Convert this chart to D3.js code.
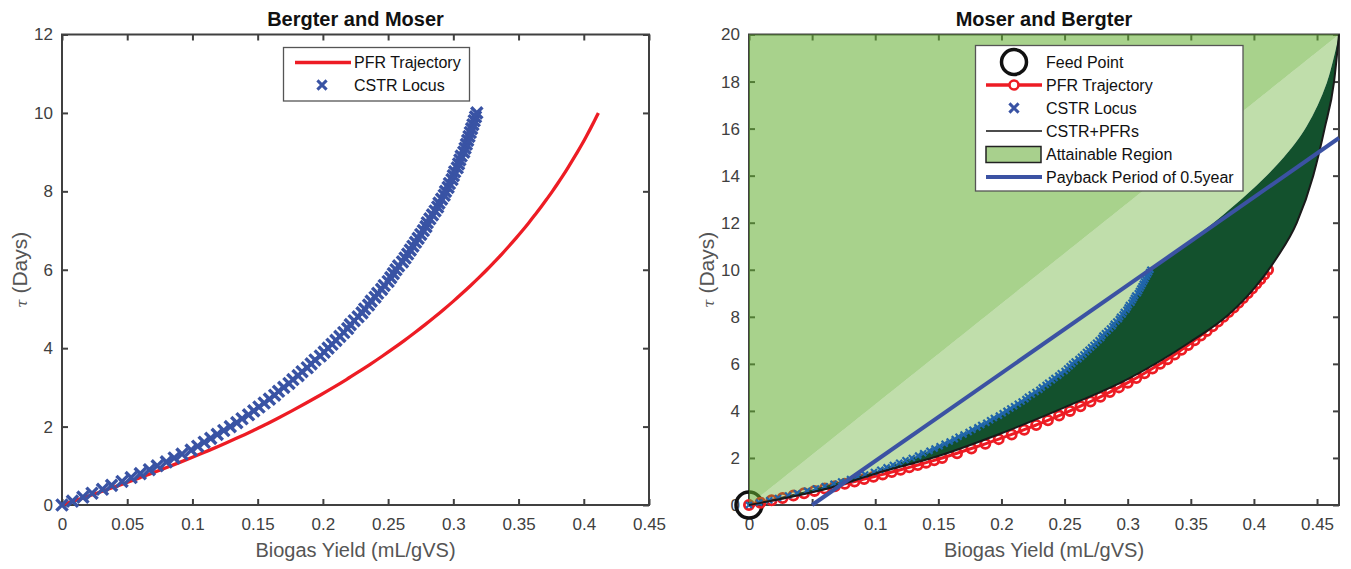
<!DOCTYPE html>
<html>
<head>
<meta charset="utf-8">
<script src="https://cdn.jsdelivr.net/npm/d3@7"></script>
<style>
body { margin: 0; background: #fff; }
svg { display: block; }
</style>
</head>
<body>
<svg id="chart" width="1351" height="569"></svg>
<script>
// PFR trajectory (residence time in days vs biogas yield)
const pfrTau = [0,0.1,0.2,0.3,0.4,0.5,0.6,0.7,0.8,0.9,1.0,1.1,1.2,1.3,1.4,1.5,1.6,1.7,1.8,1.9,2.0,
  2.2,2.4,2.6,2.8,3.0,3.2,3.4,3.6,3.8,4.0,4.2,4.4,4.6,4.8,5.0,5.2,5.4,5.6,5.8,6.0,
  6.2,6.4,6.6,6.8,7.0,7.2,7.4,7.6,7.8,8.0,8.2,8.4,8.6,8.8,9.0,9.2,9.4,9.6,9.8,10.0];
const pfrYield = [0,0.0090,0.0179,0.0266,0.0352,0.0436,0.0519,0.0600,0.0680,0.0759,0.0836,0.0912,0.0986,0.1059,0.1131,0.1201,0.1270,0.1337,0.1403,0.1467,0.1530,
  0.1648,0.1762,0.1872,0.1978,0.2081,0.2180,0.2275,0.2368,0.2457,0.2543,0.2626,0.2706,0.2784,0.2859,0.2931,0.3001,0.3068,0.3133,0.3196,0.3257,
  0.3315,0.3372,0.3426,0.3479,0.3530,0.3579,0.3626,0.3672,0.3716,0.3759,0.3800,0.3840,0.3878,0.3915,0.3951,0.3986,0.4019,0.4051,0.4082,0.4112];

// CSTR locus
const cstrTau = [0,0.1,0.2,0.3,0.4,0.5,0.6,0.7,0.8,0.9,1.0,1.1,1.2,1.3,1.4,1.5,1.6,1.7,1.8,1.9,
  2.0,2.1,2.2,2.3,2.4,2.5,2.6,2.7,2.8,2.9,3.0,3.1,3.2,3.3,3.4,3.5,3.6,3.7,3.8,3.9,
  4.0,4.1,4.2,4.3,4.4,4.5,4.6,4.7,4.8,4.9,5.0,5.1,5.2,5.3,5.4,5.5,5.6,5.7,5.8,5.9,
  6.0,6.1,6.2,6.3,6.4,6.5,6.6,6.7,6.8,6.9,7.0,7.1,7.2,7.3,7.4,7.5,7.6,7.7,7.8,7.9,
  8.0,8.1,8.2,8.3,8.4,8.5,8.6,8.7,8.8,8.9,9.0,9.1,9.2,9.3,9.4,9.5,9.6,9.7,9.8,9.9,10.0];
const cstrYield = [0,0.008,0.016,0.023,0.031,0.038,0.046,0.053,0.060,0.067,0.073,0.080,0.086,0.092,0.099,0.104,0.109,0.114,0.119,0.124,
  0.129,0.134,0.138,0.143,0.147,0.151,0.155,0.159,0.163,0.166,0.170,0.174,0.177,0.181,0.184,0.188,0.191,0.194,0.198,0.201,
  0.204,0.207,0.210,0.213,0.216,0.219,0.221,0.224,0.227,0.230,0.232,0.235,0.237,0.240,0.242,0.245,0.247,0.250,0.252,0.254,
  0.256,0.258,0.261,0.263,0.265,0.267,0.269,0.271,0.273,0.275,0.277,0.279,0.280,0.282,0.284,0.286,0.288,0.289,0.291,0.293,
  0.294,0.296,0.297,0.299,0.300,0.301,0.303,0.304,0.305,0.306,0.308,0.309,0.310,0.311,0.312,0.313,0.314,0.315,0.316,0.317,0.318];

// CSTR followed by PFRs (lower boundary of the attainable region)
const comboYield = [0,0.07,0.1,0.15,0.2,0.25,0.3,0.35,0.38,0.40,0.418,0.434,0.447,0.456,0.4635,0.4674];
const comboTau   = [0,0.82,1.33,2.08,3.05,4.15,5.35,6.95,8.1,9.2,10.5,12,14,16,18,20];

// upper edge of the dark mixing fan, from the CSTR end point to the corner
const edgeYield = [0.3758,0.4207,0.4418,0.4577,0.4674];
const edgeTau   = [12.34,14.6,16.1,17.94,20];

// payback period of 0.5 year
const paybackYield = [0.05,0.4674];
const paybackTau   = [0,15.6];

const feedYield = 0, feedTau = 0;

const xTicks = [0,0.05,0.1,0.15,0.2,0.25,0.3,0.35,0.4,0.45];
const tauTicksLeft = [0,2,4,6,8,10,12];
const tauTicksRight = [0,2,4,6,8,10,12,14,16,18,20];

const FONT = '"Liberation Sans", Arial, Helvetica, sans-serif';
const AXIS = "#404040";
const RED = "#ed1c24";
const BLUE = "#3953a4";

const svg = d3.select("#chart");

const xL = d3.scaleLinear().domain([0,0.45]).range([62,649]);
const yL = d3.scaleLinear().domain([0,12]).range([505,34.5]);
const xR = d3.scaleLinear().domain([0,0.4674]).range([749,1339]);
const yR = d3.scaleLinear().domain([0,20]).range([505,34.5]);

function frame(x, y, yTicks, title) {
  const [x0,x1] = x.range(), [y0,y1] = y.range();
  const g = svg.append("g");
  g.append("rect").attr("x",x0).attr("y",y1).attr("width",x1-x0).attr("height",y0-y1)
    .attr("fill","none").attr("stroke",AXIS).attr("stroke-width",2);
  const axes = [
    [d3.axisBottom(x).tickValues(xTicks).tickFormat(d => String(d)).tickPadding(13), `translate(0,${y0})`],
    [d3.axisTop(x).tickValues(xTicks).tickFormat(""), `translate(0,${y1})`],
    [d3.axisLeft(y).tickValues(yTicks).tickFormat(d => String(d)).tickPadding(9), `translate(${x0},0)`],
    [d3.axisRight(y).tickValues(yTicks).tickFormat(""), `translate(${x1},0)`]
  ];
  for (const [ax, tr] of axes) {
    const a = g.append("g").attr("transform", tr).call(ax.tickSize(-6).tickSizeOuter(0));
    a.select(".domain").remove();
    a.selectAll(".tick line").attr("stroke",AXIS).attr("stroke-width",2);
    a.selectAll(".tick text").attr("fill",AXIS).style("font-family",FONT).style("font-size","17px");
  }
  const cx = (x0+x1)/2, cy = (y0+y1)/2;
  svg.append("text").attr("x",cx).attr("y",26).attr("text-anchor","middle")
    .style("font-family",FONT).style("font-size","20px").style("font-weight","bold")
    .attr("fill","#111").text(title);
  svg.append("text").attr("x",cx).attr("y",557).attr("text-anchor","middle")
    .style("font-family",FONT).style("font-size","20px").attr("fill","#555")
    .text("Biogas Yield (mL/gVS)");
  const yl = svg.append("text").attr("transform",`translate(${x0-35},${cy}) rotate(-90)`)
    .attr("text-anchor","middle").style("font-family",FONT).style("font-size","21px").attr("fill","#555");
  yl.append("tspan").style("font-family","'DejaVu Serif', serif").style("font-style","italic")
    .style("font-size","15px").text("\u03c4");
  yl.append("tspan").text(" (Days)");
  return g;
}

const xMark = r => `M${-r},${-r}L${r},${r}M${-r},${r}L${r},${-r}`;

// ---------- left panel ----------
frame(xL, yL, tauTicksLeft, "Bergter and Moser");

svg.append("path")
  .datum(d3.range(pfrTau.length))
  .attr("fill","none").attr("stroke",RED).attr("stroke-width",3.3)
  .attr("d", d3.line().x(i => xL(pfrYield[i])).y(i => yL(pfrTau[i])).curve(d3.curveCatmullRom));

svg.append("g").selectAll("path")
  .data(d3.range(cstrTau.length))
  .join("path")
  .attr("transform", i => `translate(${xL(cstrYield[i])},${yL(cstrTau[i])})`)
  .attr("d", xMark(5.6)).attr("fill","none").attr("stroke",BLUE).attr("stroke-width",3.4);

// left legend
const lg = svg.append("g").style("font-family",FONT).style("font-size","16px");
lg.append("rect").attr("x",283.5).attr("y",47.5).attr("width",186).attr("height",53.5)
  .attr("fill","#fff").attr("stroke","#555").attr("stroke-width",1.3);
lg.append("line").attr("x1",295).attr("x2",351).attr("y1",62.5).attr("y2",62.5)
  .attr("stroke",RED).attr("stroke-width",3.3);
lg.append("path").attr("transform","translate(322,85)").attr("d",xMark(4.6))
  .attr("stroke",BLUE).attr("stroke-width",3).attr("fill","none");
lg.append("text").attr("x",354).attr("y",62.5).attr("dy","0.35em").attr("fill","#111").text("PFR Trajectory");
lg.append("text").attr("x",354).attr("y",85).attr("dy","0.35em").attr("fill","#111").text("CSTR Locus");

// ---------- right panel ----------
frame(xR, yR, tauTicksRight, "Moser and Bergter");

const P = (xv, tv) => [xR(xv), yR(tv)];
const xmax = xR.domain()[1];

// feed point and PFR drawn under the translucent region
svg.append("circle").attr("cx",xR(feedYield)).attr("cy",yR(feedTau)).attr("r",13)
  .attr("fill","none").attr("stroke","#111").attr("stroke-width",3.5);

svg.append("path")
  .datum(d3.range(pfrTau.length))
  .attr("fill","none").attr("stroke",RED).attr("stroke-width",3)
  .attr("d", d3.line().x(i => xR(pfrYield[i])).y(i => yR(pfrTau[i])).curve(d3.curveCatmullRom));
svg.append("g").selectAll("circle")
  .data(d3.range(pfrTau.length))
  .join("circle")
  .attr("cx", i => xR(pfrYield[i])).attr("cy", i => yR(pfrTau[i])).attr("r",4.6)
  .attr("fill","none").attr("stroke",RED).attr("stroke-width",2.8);

// attainable region pieces
const cstrPts = d3.range(cstrTau.length).map(i => P(cstrYield[i], cstrTau[i]));
const edgePts = [cstrPts[cstrPts.length-1]].concat(d3.range(edgeTau.length).map(i => P(edgeYield[i], edgeTau[i])));
const comboPts = d3.range(comboTau.length).map(i => P(comboYield[i], comboTau[i]));
const lin = d3.line();
const mono = d3.line().curve(d3.curveMonotoneX);
const smooth = d3.line().curve(d3.curveCatmullRom);
const cont = s => s.replace(/^M/, "L");

const edgeBack = smooth(edgePts.slice().reverse());      // corner -> CSTR end
const cstrBack = lin(cstrPts.slice().reverse());         // CSTR end -> origin

// above the diagonal
svg.append("path")
  .attr("d", lin([P(0,0), P(0,20), P(xmax,20)]) + "Z")
  .attr("fill","rgb(97,173,46)").attr("fill-opacity",0.55);

// band between the diagonal and the CSTR locus / fan edge
svg.append("path")
  .attr("d", lin([P(0,0), P(xmax,20)]) + cont(edgeBack) + cont(cstrBack) + "Z")
  .attr("fill","rgb(97,173,46)").attr("fill-opacity",0.4);

// dark fan between CSTR locus and CSTR+PFR curve
svg.append("path")
  .attr("d", mono(comboPts) + cont(edgeBack) + cont(cstrBack) + "Z")
  .attr("fill","#13512d");

// CSTR locus markers
svg.append("g").selectAll("path")
  .data(d3.range(cstrTau.length))
  .join("path")
  .attr("transform", i => `translate(${xR(cstrYield[i])},${yR(cstrTau[i])})`)
  .attr("d", xMark(3)).attr("fill","none").attr("stroke","#2065aa").attr("stroke-width",2.2);

// CSTR+PFRs
svg.append("path").attr("d", mono(comboPts))
  .attr("fill","none").attr("stroke","#1a1a1a").attr("stroke-width",2);

// payback line
svg.append("line")
  .attr("x1",xR(paybackYield[0])).attr("y1",yR(paybackTau[0]))
  .attr("x2",xR(paybackYield[1])).attr("y2",yR(paybackTau[1]))
  .attr("stroke","#3b52a3").attr("stroke-width",4);

// right legend
const rg = svg.append("g").style("font-family",FONT).style("font-size","16px");
rg.append("rect").attr("x",975.5).attr("y",45.5).attr("width",267.5).attr("height",145.5)
  .attr("fill","#fff").attr("stroke","#555").attr("stroke-width",1.3);
const rows = [62, 85, 108, 131, 154.5, 177];
const labels = ["Feed Point","PFR Trajectory","CSTR Locus","CSTR+PFRs","Attainable Region","Payback Period of 0.5year"];
rg.append("circle").attr("cx",1014).attr("cy",rows[0]).attr("r",12.5)
  .attr("fill","none").attr("stroke","#111").attr("stroke-width",3.5);
rg.append("line").attr("x1",986).attr("x2",1042).attr("y1",rows[1]).attr("y2",rows[1])
  .attr("stroke",RED).attr("stroke-width",3.3);
rg.append("circle").attr("cx",1014).attr("cy",rows[1]).attr("r",4.5)
  .attr("fill","#fff").attr("stroke",RED).attr("stroke-width",2.6);
rg.append("path").attr("transform",`translate(1014,${rows[2]})`).attr("d",xMark(4.6))
  .attr("stroke",BLUE).attr("stroke-width",3).attr("fill","none");
rg.append("line").attr("x1",986).attr("x2",1042).attr("y1",rows[3]).attr("y2",rows[3])
  .attr("stroke","#111").attr("stroke-width",1.6);
rg.append("rect").attr("x",986).attr("y",rows[4]-8).attr("width",55).attr("height",16)
  .attr("fill","#a8d08d").attr("stroke","#222").attr("stroke-width",1.5);
rg.append("line").attr("x1",986).attr("x2",1042).attr("y1",rows[5]).attr("y2",rows[5])
  .attr("stroke","#3b52a3").attr("stroke-width",4);
rg.selectAll("text.lab").data(labels).join("text").attr("class","lab")
  .attr("x",1046).attr("y",(d,i) => rows[i]).attr("dy","0.35em").attr("fill","#111").text(d => d);
</script>
</body>
</html>
